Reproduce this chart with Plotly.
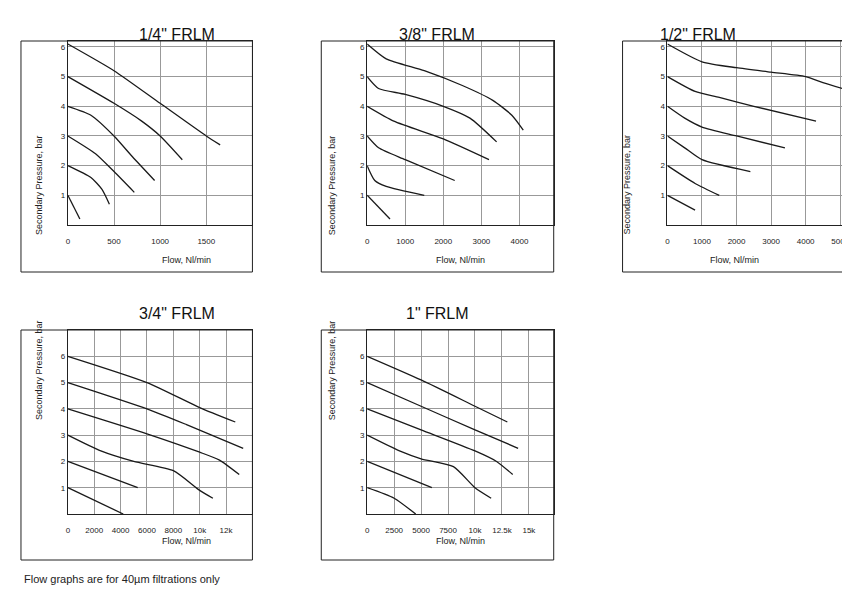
import plotly.graph_objects as go

W, H = 850, 598

# ---- data (flow Nl/min, secondary pressure bar) ----
q14 = [
    ([0, 500, 1000, 1500, 1650], [6.1, 5.2, 4.1, 3.0, 2.7]),
    ([0, 500, 800, 1000, 1240], [5.0, 4.1, 3.5, 3.0, 2.2]),
    ([0, 250, 500, 700, 940], [4.0, 3.7, 3.0, 2.3, 1.5]),
    ([0, 300, 500, 720], [3.0, 2.4, 1.8, 1.1]),
    ([0, 250, 370, 450], [2.0, 1.6, 1.2, 0.7]),
    ([0, 130], [1.0, 0.2]),
]
q38 = [
    ([0, 500, 1500, 2500, 3300, 3800, 4100], [6.1, 5.6, 5.2, 4.7, 4.2, 3.7, 3.2]),
    ([0, 300, 1000, 2000, 2700, 3400], [5.0, 4.6, 4.4, 4.0, 3.6, 2.8]),
    ([0, 700, 2000, 3200], [4.0, 3.5, 2.9, 2.2]),
    ([0, 300, 1000, 2300], [3.0, 2.6, 2.2, 1.5]),
    ([0, 200, 500, 1500], [2.0, 1.5, 1.3, 1.0]),
    ([0, 600], [1.0, 0.2]),
]
q12 = [
    ([0, 1000, 2000, 3000, 4000, 4500, 5200], [6.1, 5.5, 5.3, 5.15, 5.0, 4.8, 4.55]),
    ([0, 800, 1500, 2500, 4300], [5.0, 4.5, 4.3, 4.0, 3.5]),
    ([0, 500, 1000, 2000, 3400], [4.0, 3.6, 3.3, 3.0, 2.6]),
    ([0, 500, 1000, 2400], [3.0, 2.6, 2.2, 1.8]),
    ([0, 800, 1500], [2.0, 1.4, 1.0]),
    ([0, 800], [1.0, 0.5]),
]
q34 = [
    ([0, 6000, 10000, 12700], [6.0, 5.0, 4.05, 3.5]),
    ([0, 6000, 9000, 13300], [5.0, 4.0, 3.4, 2.5]),
    ([0, 6000, 10000, 11500, 13000], [4.0, 3.05, 2.35, 2.05, 1.5]),
    ([0, 2500, 5000, 8000, 10000, 11000], [3.0, 2.4, 2.0, 1.65, 0.9, 0.6]),
    ([0, 5300], [2.0, 1.0]),
    ([0, 4200], [1.0, 0.0]),
]
q1 = [
    ([0, 5000, 10000, 13000], [6.0, 5.1, 4.1, 3.5]),
    ([0, 5000, 10000, 14000], [5.0, 4.1, 3.2, 2.5]),
    ([0, 5000, 10000, 12000, 13500], [4.0, 3.2, 2.4, 2.0, 1.5]),
    ([0, 3000, 5000, 8000, 10000, 11500], [3.0, 2.4, 2.1, 1.8, 1.0, 0.6]),
    ([0, 6000], [2.0, 1.0]),
    ([0, 2500, 4500], [1.0, 0.6, 0.0]),
]

titles = ['1/4" FRLM', '3/8" FRLM', '1/2" FRLM', '3/4" FRLM', '1" FRLM']
curves = [q14, q38, q12, q34, q1]
xranges = [2000, 4900, 5400, 14000, 17300]
xticks = [[0, 500, 1000, 1500], [0, 1000, 2000, 3000, 4000],
          [0, 1000, 2000, 3000, 4000, 5000],
          [0, 2000, 4000, 6000, 8000, 10000, 12000],
          [0, 2500, 5000, 7500, 10000, 12500, 15000]]
xdtick = [500, 1000, 1000, 2000, 2500]
ymax = [6.2, 6.2, 6.2, 7.0, 7.0]

# panel boxes in pixels: outer left, plot left, right, top, plot bottom, outer bottom
boxes = [(11, 58, 243, 33, 217, 264), (312, 358, 545, 33, 217, 264),
         (614, 659, 846, 33, 217, 264), (11, 58, 243, 322, 506, 552),
         (312, 358, 545, 322, 506, 552)]

px = lambda x: x / W
py = lambda y: 1 - y / H

fig = go.Figure()
shapes, annos = [], []
for i, (ol, pl, r, t, pb, ob) in enumerate(boxes):
    n = '' if i == 0 else str(i + 1)
    for xs, ys in curves[i]:
        fig.add_trace(go.Scatter(x=xs, y=ys, mode='lines', xaxis='x' + n, yaxis='y' + n,
                                 line=dict(color='#1a1a1a', width=1.3, shape='spline', smoothing=0.6),
                                 showlegend=False, hoverinfo='skip'))
    common = dict(showgrid=True, gridcolor='#999', gridwidth=0.8, zeroline=False,
                  showline=True, linecolor='#222', linewidth=1, ticks='',
                  tickfont=dict(size=8, family='Arial, Liberation Sans', color='#222'))
    fig.layout['xaxis' + n] = dict(domain=[px(pl), px(r)], anchor='y' + n,
                                   range=[0, xranges[i]], tickvals=xticks[i], dtick=xdtick[i],
                                   tick0=0, ticklabelstandoff=8, mirror=True, **common)
    fig.layout['xaxis' + n].update(tickmode='linear')
    fig.layout['xaxis' + n].update(tickmode='array', tickvals=xticks[i])
    fig.layout['yaxis' + n] = dict(domain=[py(pb), py(t)], anchor='x' + n,
                                   range=[0, ymax[i]], tickvals=[1, 2, 3, 4, 5, 6],
                                   mirror=True, **common)
    shapes.append(dict(type='rect', xref='paper', yref='paper', x0=px(ol), x1=px(r),
                       y0=py(ob), y1=py(t), line=dict(color='#222', width=1)))
    cx = (ol + r) / 2
    annos.append(dict(text=titles[i], x=px(cx), y=py(t - 17), xref='paper', yref='paper',
                      showarrow=False, font=dict(size=16, color='#111')))
    annos.append(dict(text='Flow, Nl/min', x=px((pl + r) / 2), y=py(ob - 12), xref='paper',
                      yref='paper', showarrow=False, font=dict(size=9, color='#222')))
    annos.append(dict(text='Secondary Pressure, bar', x=px(ol + 11), y=py((t + pb) / 2),
                      xref='paper', yref='paper', showarrow=False, textangle=-90,
                      font=dict(size=9, color='#222')))

# vertical grid for the finer panels uses dtick lines via extra shapes not needed
annos.append(dict(text='Flow graphs are for 40µm filtrations only', x=px(12), y=py(579),
                  xref='paper', yref='paper', xanchor='left', showarrow=False,
                  font=dict(size=11, color='#222')))

fig.update_layout(width=W, height=H, margin=dict(l=0, r=0, t=0, b=0),
                  paper_bgcolor='white', plot_bgcolor='white',
                  font=dict(family='Arial, Liberation Sans'),
                  shapes=shapes, annotations=annos)
fig.write_html("out.html")
